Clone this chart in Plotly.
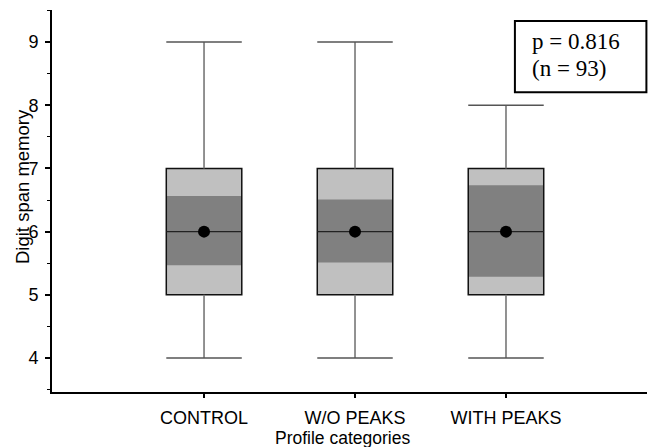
import plotly.graph_objects as go

categories = ["CONTROL", "W/O PEAKS", "WITH PEAKS"]
whisker_low = [4, 4, 4]
q1 = [5, 5, 5]
ci_low = [5.47, 5.51, 5.285]
median = [6, 6, 6]
mean = [6, 6, 6]
ci_high = [6.565, 6.51, 6.735]
q3 = [7, 7, 7]
whisker_high = [9, 9, 8]
p_text = "p = 0.816"
n_text = "(n = 93)"

pos = list(range(len(categories)))
half = 0.25

fig = go.Figure()

# light box (quartiles)
fig.add_trace(go.Bar(x=pos, y=[b - a for a, b in zip(q1, q3)], base=q1, width=2 * half,
                     marker=dict(color="#c0c0c0", line=dict(width=0)), hoverinfo="skip"))
# dark band
fig.add_trace(go.Bar(x=pos, y=[b - a for a, b in zip(ci_low, ci_high)], base=ci_low, width=2 * half,
                     marker=dict(color="#808080", line=dict(width=0)), hoverinfo="skip"))
# outline
fig.add_trace(go.Bar(x=pos, y=[b - a for a, b in zip(q1, q3)], base=q1, width=2 * half,
                     marker=dict(color="rgba(0,0,0,0)", line=dict(width=1.5, color="#111")),
                     hoverinfo="skip"))

# whiskers (vertical)
wx, wy = [], []
for p, lo, a, b, hi in zip(pos, whisker_low, q1, q3, whisker_high):
    wx += [p, p, None, p, p, None]
    wy += [lo, a, None, b, hi, None]
fig.add_trace(go.Scatter(x=wx, y=wy, mode="lines", line=dict(color="#777777", width=1.6),
                         hoverinfo="skip"))

# caps
cx, cy = [], []
for p, lo, hi in zip(pos, whisker_low, whisker_high):
    cx += [p - half, p + half, None, p - half, p + half, None]
    cy += [lo, lo, None, hi, hi, None]
fig.add_trace(go.Scatter(x=cx, y=cy, mode="lines", line=dict(color="#555555", width=1.5),
                         hoverinfo="skip"))

# median
mx, my = [], []
for p, m in zip(pos, median):
    mx += [p - half, p + half, None]
    my += [m, m, None]
fig.add_trace(go.Scatter(x=mx, y=my, mode="lines", line=dict(color="#222222", width=1.2),
                         hoverinfo="skip"))

# mean dot
fig.add_trace(go.Scatter(x=pos, y=mean, mode="markers",
                         marker=dict(color="black", size=12), hoverinfo="skip"))

fig.update_layout(
    width=648, height=447,
    margin=dict(l=52, r=1, t=10, b=55),
    plot_bgcolor="white", paper_bgcolor="white",
    showlegend=False, barmode="overlay",
    font=dict(family="Liberation Sans, Arial", color="black"),
)
fig.update_xaxes(range=[-1.007, 2.934], tickvals=pos, ticktext=categories,
                 showline=True, linecolor="black", linewidth=2, mirror=False,
                 ticks="outside", ticklen=4, tickwidth=1.5, tickcolor="black",
                 ticklabelstandoff=4,
                 showgrid=False, zeroline=False, tickfont=dict(size=18))
fig.update_yaxes(range=[3.463, 9.506], tickvals=[4, 5, 6, 7, 8, 9],
                 showline=True, linecolor="black", linewidth=2,
                 ticks="outside", ticklen=5, tickwidth=1.5, tickcolor="black",
                 ticklabelstandoff=3,
                 minor=dict(tickvals=[3.5, 4.5, 5.5, 6.5, 7.5, 8.5, 9.5], ticks="outside",
                            ticklen=3, tickwidth=1.2, tickcolor="black"),
                 showgrid=False, zeroline=False, tickfont=dict(size=18))

# axis titles as annotations
fig.add_annotation(text="Digit span memory", textangle=-90, xref="paper", yref="y",
                   x=-0.05, y=6.71, xanchor="center", yanchor="middle", showarrow=False,
                   font=dict(size=18.5))
fig.add_annotation(text="Profile categories", xref="x", yref="paper", x=0.914, y=-0.088,
                   xanchor="center", yanchor="top", showarrow=False, font=dict(size=17.5))

# p-value box
fig.add_shape(type="rect", xref="paper", yref="paper", x0=0.778, x1=0.999, y0=0.785, y1=0.971,
              line=dict(color="black", width=2), fillcolor="white")
serif = dict(family="Liberation Serif, Times New Roman", size=23)
fig.add_annotation(text=p_text, xref="paper", yref="paper", x=0.803, y=0.917,
                   xanchor="left", yanchor="middle", showarrow=False, font=serif)
fig.add_annotation(text=n_text, xref="paper", yref="paper", x=0.803, y=0.848,
                   xanchor="left", yanchor="middle", showarrow=False, font=serif)

fig.write_html("out.html")
